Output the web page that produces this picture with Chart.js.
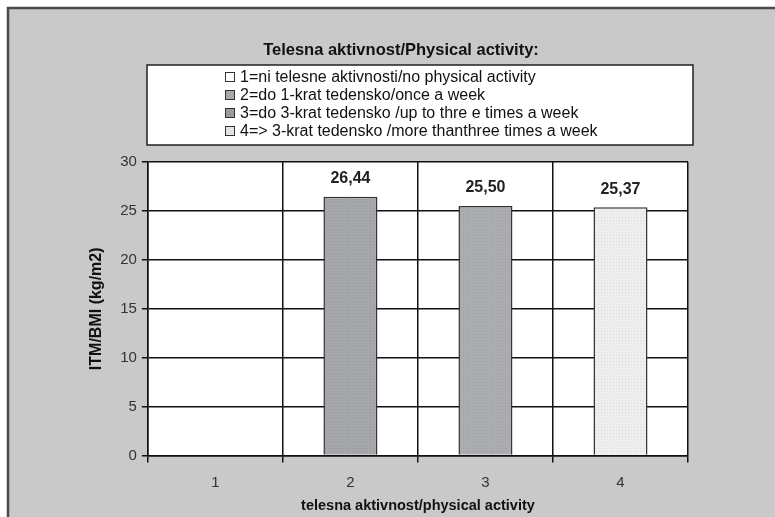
<!DOCTYPE html>
<html>
<head>
<meta charset="utf-8">
<script src="https://cdn.jsdelivr.net/npm/chart.js@4.4.1/dist/chart.umd.min.js"></script>
<style>
  html, body { margin: 0; padding: 0; background: #ffffff; }
  #wrap { width: 775px; height: 517px; }
</style>
</head>
<body>
<div id="wrap"><canvas id="c" width="775" height="517"></canvas></div>
<script>
// Activity groups and mean BMI per group (group 1 has no value shown)
const categories = ['1', '2', '3', '4'];
const bmiValues = [null, 26.44, 25.50, 25.37];
const chartTitle = 'Telesna aktivnost/Physical activity:';
const legendLabels = [
  '1=ni telesne aktivnosti/no physical activity',
  '2=do 1-krat tedensko/once a week',
  '3=do 3-krat tedensko /up to thre e times a week',
  '4=> 3-krat tedensko /more thanthree times a week'
];
const yTicks = [0, 5, 10, 15, 20, 25, 30];

const FONT = "'Liberation Sans', Arial, sans-serif";
const legendColors = ['#ffffff', '#a8a8a8', '#9a9a9a', '#e4e4e4'];

// Fine dotted texture used by the bars
function dotted(base, dot) {
  const p = document.createElement('canvas');
  p.width = 3; p.height = 3;
  const g = p.getContext('2d');
  g.fillStyle = base; g.fillRect(0, 0, 3, 3);
  g.fillStyle = dot; g.fillRect(1, 1, 1, 1);
  return document.getElementById('c').getContext('2d').createPattern(p, 'repeat');
}
const barFills = [
  '#ffffff',
  dotted('#a6a7ab', '#97989c'),
  dotted('#acadb1', '#9fa0a4'),
  dotted('#eeeeee', '#dedede')
];

// Frame, white plot background, heading, legend box and value labels
const decor = {
  id: 'decor',
  beforeDraw(chart) {
    const { ctx, chartArea: a } = chart;
    ctx.save();
    ctx.fillStyle = '#ffffff';
    ctx.fillRect(0, 0, chart.width, chart.height);
    ctx.fillStyle = '#c9c9c9';
    ctx.fillRect(8, 8, chart.width, chart.height);
    ctx.strokeStyle = '#4a4a4a';
    ctx.lineWidth = 2.5;
    ctx.beginPath();
    ctx.moveTo(8, chart.height + 2);
    ctx.lineTo(8, 8);
    ctx.lineTo(chart.width + 2, 8);
    ctx.stroke();
    ctx.fillStyle = '#ffffff';
    ctx.fillRect(a.left, a.top, a.right - a.left, a.bottom - a.top);
    ctx.restore();
  },
  afterDraw(chart) {
    const ctx = chart.ctx;
    ctx.save();
    // heading
    ctx.font = "bold 16.5px " + FONT;
    ctx.fillStyle = '#111111';
    ctx.textAlign = 'center';
    ctx.textBaseline = 'middle';
    ctx.fillText(chartTitle, 401, 50);
    // legend box
    const bx = 147, by = 65, bw = 546, bh = 80;
    ctx.fillStyle = '#ffffff';
    ctx.fillRect(bx, by, bw, bh);
    ctx.strokeStyle = '#222222';
    ctx.lineWidth = 1.5;
    ctx.strokeRect(bx, by, bw, bh);
    ctx.font = "16px " + FONT;
    ctx.textAlign = 'left';
    legendLabels.forEach((t, i) => {
      const y = by + 12 + i * 18;
      ctx.fillStyle = legendColors[i];
      ctx.fillRect(225, y - 5, 10, 10);
      ctx.strokeStyle = '#333333';
      ctx.lineWidth = 1;
      ctx.strokeRect(225.5, y - 4.5, 9, 9);
      ctx.fillStyle = '#111111';
      ctx.fillText(t, 240, y + 1);
    });
    ctx.restore();
  },
  afterDatasetsDraw(chart) {
    const ctx = chart.ctx;
    const meta = chart.getDatasetMeta(0);
    ctx.save();
    ctx.font = "bold 16px " + FONT;
    ctx.fillStyle = '#222222';
    ctx.textAlign = 'center';
    ctx.textBaseline = 'bottom';
    meta.data.forEach((bar, i) => {
      const v = bmiValues[i];
      if (v == null) return;
      ctx.fillText(v.toFixed(2).replace('.', ','), bar.x, bar.y - 10);
    });
    ctx.restore();
  }
};

new Chart(document.getElementById('c'), {
  type: 'bar',
  data: {
    labels: categories,
    datasets: [{
      data: bmiValues,
      backgroundColor: barFills,
      borderColor: '#333333',
      borderWidth: 1.5,
      barPercentage: 0.4,
      categoryPercentage: 1.0
    }]
  },
  options: {
    responsive: false,
    animation: false,
    layout: { padding: { left: 83, right: 87, top: 162, bottom: 2 } },
    plugins: {
      legend: { display: false },
      tooltip: { enabled: false },
      title: { display: false }
    },
    scales: {
      x: {
        grid: { color: '#111111', lineWidth: 1.5, tickLength: 7, offset: true },
        border: { color: '#111111', width: 1.5 },
        ticks: { color: '#333333', font: { family: FONT, size: 15 }, padding: 11 },
        title: {
          display: true,
          text: 'telesna aktivnost/physical activity',
          color: '#111111',
          font: { family: FONT, size: 14.5, weight: 'bold' },
          padding: { top: -5, bottom: 0 }
        }
      },
      y: {
        min: 0, max: 30,
        afterBuildTicks(axis) { axis.ticks = yTicks.map(v => ({ value: v })); },
        grid: { color: '#111111', lineWidth: 1.5, tickLength: 6 },
        border: { color: '#111111', width: 1.5 },
        ticks: { color: '#333333', font: { family: FONT, size: 15 }, padding: 5 },
        title: {
          display: true,
          text: 'ITM/BMI (kg/m2)',
          color: '#111111',
          font: { family: FONT, size: 16, weight: 'bold' },
          padding: { top: 4, bottom: 9 }
        }
      }
    }
  },
  plugins: [decor]
});
</script>
</body>
</html>
